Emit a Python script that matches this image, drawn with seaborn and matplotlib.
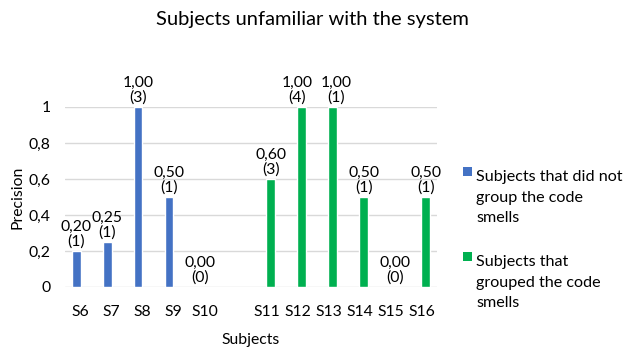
import matplotlib
matplotlib.use("Agg")
import matplotlib.pyplot as plt
import seaborn as sns
import pandas as pd
from matplotlib.patches import Rectangle
from matplotlib.legend_handler import HandlerBase

# ---- data ----
subjects_a = ["S6", "S7", "S8", "S9", "S10"]
precision_a = [0.20, 0.25, 1.00, 0.50, 0.00]
counts_a = [1, 1, 3, 1, 0]

subjects_b = ["S11", "S12", "S13", "S14", "S15", "S16"]
precision_b = [0.60, 1.00, 1.00, 0.50, 0.00, 0.50]
counts_b = [3, 4, 1, 1, 0, 1]

group_a = "Subjects that did not\ngroup the code\nsmells"
group_b = "Subjects that\ngrouped the code\nsmells"
category_order = subjects_a + [" "] + subjects_b
y_ticks = [0, 0.2, 0.4, 0.6, 0.8, 1.0]
y_tick_labels = ["0", "0,2", "0,4", "0,6", "0,8", "1"]
title = "Subjects unfamiliar with the system"
x_label = "Subjects"
y_label = "Precision"
palette = {group_a: "#4472C4", group_b: "#00B050"}
# small horizontal nudges (points) so adjacent labels do not collide
label_nudge = {"S12": -3.0, "S13": 2.2}

sns.set_theme(style="white")
plt.rcParams["font.family"] = ["Lato", "DejaVu Sans"]
TXT = "#000000"
FS = 11.3
LFS = 11.6

df = pd.DataFrame({
    "Subject": subjects_a + subjects_b,
    "Precision": precision_a + precision_b,
    "Group": [group_a] * len(subjects_a) + [group_b] * len(subjects_b),
})
label_map = {
    s: f"{p:.2f}".replace(".", ",") + f"\n({c})"
    for s, p, c in zip(subjects_a + subjects_b, precision_a + precision_b, counts_a + counts_b)
}

fig = plt.figure(figsize=(6.25, 3.48), dpi=100)
ax = fig.add_axes([65 / 625, 61 / 348, 372 / 625, 180 / 348])

sns.barplot(data=df, x="Subject", y="Precision", hue="Group", order=category_order,
            hue_order=[group_a, group_b], palette=palette, width=0.535, dodge=True,
            errorbar=None, saturation=1, ax=ax)

handles, labels = ax.get_legend_handles_labels()
if ax.get_legend() is not None:
    ax.get_legend().remove()

PAD = 2
for cont in ax.containers:
    names = []
    for bar in cont:
        idx = int(round(bar.get_x() + bar.get_width() / 2))
        names.append(category_order[idx])
    texts = ax.bar_label(cont, labels=[label_map.get(n, "") for n in names], padding=PAD,
                         fontsize=FS, color=TXT, linespacing=1.0, clip_on=False)
    for n, t in zip(names, texts):
        if n in label_nudge:
            t.xyann = (label_nudge[n], PAD)

ax.set_ylim(0, 1.0)
ax.set_yticks(y_ticks)
ax.set_yticklabels(y_tick_labels)
ax.yaxis.grid(True, color="#d9d9d9", linewidth=1)
ax.set_axisbelow(True)
for sp in ax.spines.values():
    sp.set_visible(False)
ax.tick_params(axis="y", length=0, pad=10.5, labelsize=FS, labelcolor=TXT)
ax.tick_params(axis="x", length=0, pad=13, labelsize=FS, labelcolor=TXT)
ax.set_xlabel(x_label, fontsize=FS, color=TXT, labelpad=10)
ax.set_ylabel(y_label, fontsize=FS, color=TXT, labelpad=3)

fig.text(0.5, 1 - 19 / 348, title, ha="center", va="center", fontsize=14.5, color=TXT)


class TopSquare(HandlerBase):
    def __init__(self, size, shift):
        super().__init__()
        self.size = size
        self.shift = shift

    def create_artists(self, legend, orig_handle, xdescent, ydescent, width, height,
                       fontsize, trans):
        r = Rectangle((-xdescent + width - self.size,
                       -ydescent + (height - self.size) / 2 + self.shift),
                      self.size, self.size, facecolor=orig_handle.get_facecolor(),
                      edgecolor="none", transform=trans)
        return [r]


hm = {h: TopSquare(6.3, 18.6) for h in handles}
leg = fig.legend(handles, labels, loc="upper left", bbox_to_anchor=(462 / 625, 1 - 170 / 348),
                 frameon=False, borderpad=0, borderaxespad=0, handlelength=0.6,
                 handletextpad=0.3, labelspacing=1.85, fontsize=LFS, handler_map=hm)
for t in leg.get_texts():
    t.set_linespacing(1.6)
    t.set_color(TXT)

fig.savefig("out.png", dpi=100)
